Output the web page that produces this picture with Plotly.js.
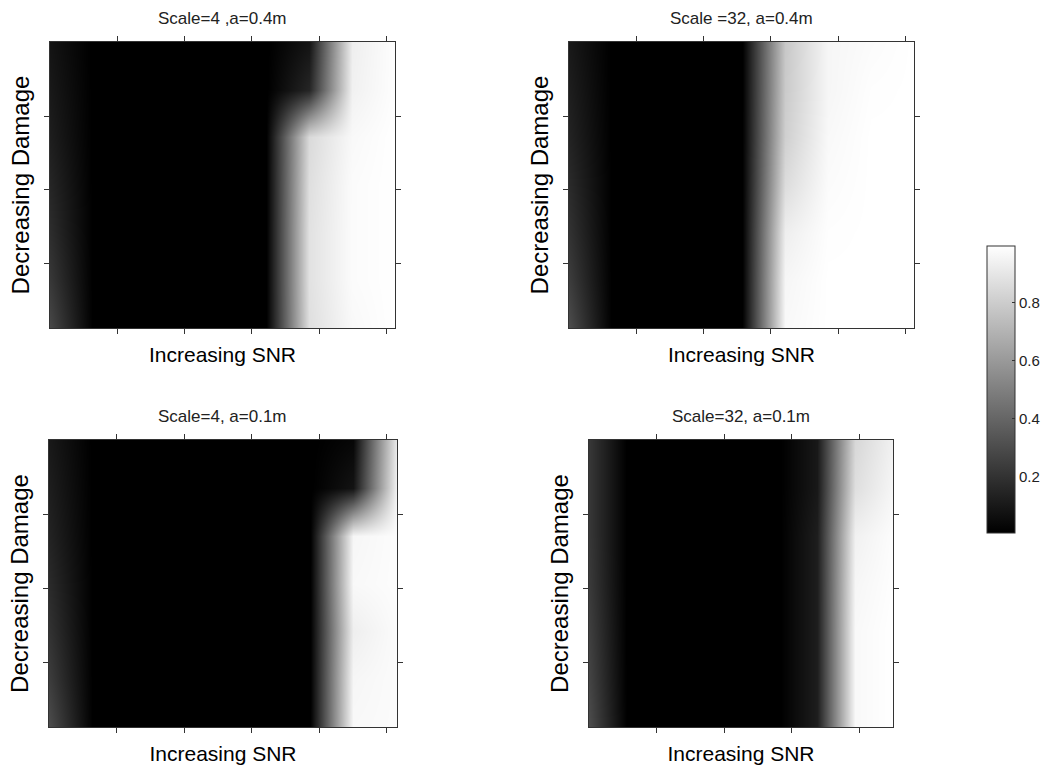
<!DOCTYPE html>
<html>
<head>
<meta charset="utf-8">
<script src="https://cdn.plot.ly/plotly-3.0.1.min.js"></script>
<style>html,body{margin:0;padding:0;background:#fff;}#chart{width:1054px;height:775px;}</style>
</head>
<body>
<div id="chart"></div>
<script>
// ---- data ----
var titles = ["Scale=4 ,a=0.4m", "Scale =32, a=0.4m", "Scale=4, a=0.1m", "Scale=32, a=0.1m"];
var xLabel = "Increasing SNR";
var yLabel = "Decreasing Damage";

// SNR grid positions (columns) per panel
var snrTop = [0, 1.28, 2.56, 3.84, 5.13, 6.41, 7.69, 8.97, 10.25];
var snrBL  = [0, 1.29, 2.58, 3.87, 5.16, 6.44, 7.73, 9.02, 10.31];
var snrBR  = [0, 1.125, 2.25, 3.375, 4.5, 5.625, 6.75, 7.875, 9];
var snrTicks = [2, 4, 6, 8, 10];
// damage grid positions (rows, top to bottom)
var damage = [0, 1.29, 2.58, 3.87, 5.15, 6.44, 7.73];
var damageTicks = [2, 4, 6];

var zScale4a04 = [
  [0.08, 0, 0, 0, 0, 0, 0.08, 0.93, 0.99],
  [0.10, 0, 0, 0, 0, 0, 0.15, 0.94, 0.99],
  [0.12, 0, 0, 0, 0, 0, 0.85, 0.97, 0.995],
  [0.15, 0, 0, 0, 0, 0, 0.87, 0.98, 0.995],
  [0.18, 0, 0, 0, 0, 0, 0.88, 0.98, 0.995],
  [0.22, 0, 0, 0, 0, 0, 0.88, 0.98, 0.995],
  [0.28, 0, 0, 0, 0, 0, 0.87, 0.97, 0.995]
];
var zScale32a04 = [
  [0.10, 0, 0, 0, 0, 0.78, 0.96, 0.98, 0.995],
  [0.12, 0, 0, 0, 0, 0.79, 0.96, 0.99, 0.995],
  [0.14, 0, 0, 0, 0, 0.81, 0.97, 0.995, 0.995],
  [0.17, 0, 0, 0, 0, 0.86, 0.98, 0.995, 0.995],
  [0.20, 0, 0, 0, 0, 0.93, 0.99, 0.995, 0.995],
  [0.24, 0, 0, 0, 0, 0.96, 0.995, 0.995, 0.995],
  [0.30, 0, 0, 0, 0, 0.97, 0.995, 0.995, 0.995]
];
var zScale4a01 = [
  [0.10, 0, 0, 0, 0, 0, 0, 0.03, 0.92],
  [0.12, 0, 0, 0, 0, 0, 0, 0.08, 0.95],
  [0.14, 0, 0, 0, 0, 0, 0, 0.96, 0.985],
  [0.17, 0, 0, 0, 0, 0, 0, 0.97, 0.985],
  [0.20, 0, 0, 0, 0, 0, 0, 0.93, 0.98],
  [0.24, 0, 0, 0, 0, 0, 0, 0.96, 0.98],
  [0.30, 0, 0, 0, 0, 0, 0, 0.97, 0.98]
];
var zScale32a01 = [
  [0.22, 0, 0, 0, 0, 0, 0.10, 0.84, 0.94],
  [0.22, 0, 0, 0, 0, 0, 0.10, 0.87, 0.96],
  [0.22, 0, 0, 0, 0, 0, 0.12, 0.94, 0.985],
  [0.23, 0, 0, 0, 0, 0, 0.12, 0.96, 0.99],
  [0.25, 0, 0, 0, 0, 0, 0.12, 0.97, 0.995],
  [0.27, 0, 0, 0, 0, 0, 0.12, 0.97, 0.995],
  [0.30, 0, 0, 0, 0, 0, 0.12, 0.97, 0.995]
];
var colorTicks = [0.2, 0.4, 0.6, 0.8];
var cMin = 0.005, cMax = 0.995;

// ---- figure ----
var W = 1054, H = 775;
var font = "Liberation Sans, Arial, Helvetica, sans-serif";
function sfx(n) { return n === 1 ? '' : String(n); }
function hm(x, z, n) {
  return {type: 'heatmap', x: x, y: damage, z: z, zsmooth: 'best', coloraxis: 'coloraxis',
          xaxis: 'x' + sfx(n), yaxis: 'y' + sfx(n), hoverinfo: 'skip'};
}
var data = [hm(snrTop, zScale4a04, 1), hm(snrTop, zScale32a04, 2), hm(snrBL, zScale4a01, 3), hm(snrBR, zScale32a01, 4)];

function xax(n, domainPx, maxv) {
  return {anchor: 'y' + sfx(n), domain: [domainPx[0] / W, domainPx[1] / W], range: [0, maxv],
    tickmode: 'array', tickvals: snrTicks,
    showticklabels: false, ticks: 'outside', ticklen: 5, tickcolor: '#333', tickwidth: 1,
    showline: true, linecolor: '#333', linewidth: 1, mirror: 'ticks', showgrid: false, zeroline: false,
    title: {text: xLabel, font: {family: font, size: 21, color: '#000'}, standoff: 14}};
}
function yax(n, domainPx) {
  return {anchor: 'x' + sfx(n), domain: [1 - domainPx[1] / H, 1 - domainPx[0] / H], range: [damage[damage.length - 1], 0],
    tickmode: 'array', tickvals: damageTicks,
    showticklabels: false, ticks: 'outside', ticklen: 5, tickcolor: '#333', tickwidth: 1,
    showline: true, linecolor: '#333', linewidth: 1, mirror: 'ticks', showgrid: false, zeroline: false,
    title: {text: yLabel, font: {family: font, size: 24, color: '#000'}, standoff: 7}};
}
var layout = {
  width: W, height: H, margin: {l: 0, r: 0, t: 0, b: 0},
  paper_bgcolor: '#fff', plot_bgcolor: '#fff', showlegend: false,
  font: {family: font, color: '#000'},
  xaxis: xax(1, [50, 395], snrTop[snrTop.length - 1]), yaxis: yax(1, [42, 328]),
  xaxis2: xax(2, [569, 914], snrTop[snrTop.length - 1]), yaxis2: yax(2, [42, 328]),
  xaxis3: xax(3, [49, 397], snrBL[snrBL.length - 1]), yaxis3: yax(3, [440, 727]),
  xaxis4: xax(4, [589, 893], snrBR[snrBR.length - 1]), yaxis4: yax(4, [440, 727]),
  coloraxis: {
    cmin: cMin, cmax: cMax,
    colorscale: [[0, 'rgb(0,0,0)'], [1, 'rgb(255,255,255)']],
    colorbar: {x: 987 / W, xanchor: 'left', y: 1 - 389.5 / H, yanchor: 'middle',
      thickness: 28, thicknessmode: 'pixels', len: 287, lenmode: 'pixels', xpad: 0, ypad: 0,
      outlinewidth: 1, outlinecolor: '#333', borderwidth: 0,
      tickmode: 'array', tickvals: colorTicks, ticktext: colorTicks.map(String),
      ticks: 'inside', ticklen: 3, tickcolor: '#333',
      tickfont: {family: font, size: 15, color: '#222'}}
  },
  annotations: titles.map(function (t, i) {
    var n = sfx(i + 1);
    return {text: t, xref: 'x' + n + ' domain', yref: 'y' + n + ' domain', x: 0.5, y: 1,
      xanchor: 'center', yanchor: 'bottom', yshift: 12, showarrow: false,
      font: {family: font, size: 17, color: '#222'}};
  })
};
Plotly.newPlot('chart', data, layout, {staticPlot: true});
</script>
</body>
</html>
